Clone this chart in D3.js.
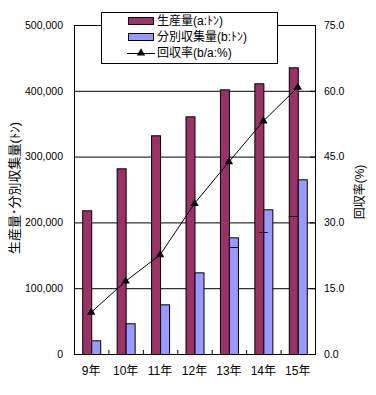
<!DOCTYPE html>
<html><head><meta charset="utf-8">
<script src="https://cdn.jsdelivr.net/npm/d3@7"></script>
<style>
html,body{margin:0;padding:0;background:#fff;}
svg{display:block;}
text{font-family:"Liberation Sans","Noto Sans CJK JP",sans-serif;fill:#000;}
</style></head>
<body><svg id="c" width="376" height="395"></svg>
<script>
const categories = ["9年","10年","11年","12年","13年","14年","15年"];
const production = [218400, 282200, 332400, 361200, 402200, 411400, 435700];
const collected  = [20800, 46700, 75500, 124100, 177300, 219900, 265500];
const rate       = [9.5, 16.6, 22.6, 34.3, 43.8, 53.1, 60.8];
const extraMarks = [null, null, null, null, 162600, 185400, 209700];
const leftTicks  = [0, 100000, 200000, 300000, 400000, 500000];
const rightTicks = [0, 15, 30, 45, 60, 75];
const seriesNames = ["生産量(a:ﾄﾝ)", "分別収集量(b:ﾄﾝ)", "回収率(b/a:%)"];
const colors = ["#993366", "#9999FF"];

const svg = d3.select("#c");
svg.append("rect").attr("width",376).attr("height",395).attr("fill","#fff");

const L = 74, R = 315, T = 25, B = 354;
const x = d3.scaleBand().domain(categories).range([L, R]).padding(0);
const bw = x.bandwidth();
const xs = d3.scaleBand().domain([0,1]).range([bw/2 - 9, bw/2 + 9]).padding(0);
const yL = d3.scaleLinear().domain([0, 500000]).range([B, T]);
const yR = d3.scaleLinear().domain([0, 75]).range([B, T]);

// gridlines
svg.append("g").selectAll("line").data(leftTicks.slice(1)).join("line")
  .attr("x1", L).attr("x2", R).attr("y1", d=>yL(d)+0.5).attr("y2", d=>yL(d)+0.5)
  .attr("stroke","#000").attr("stroke-width",1);

// bars
const g = svg.append("g");
[production, collected].forEach((arr, si) => {
  g.append("g").selectAll("rect").data(arr).join("rect")
    .attr("x", (d,i)=> x(categories[i]) + xs(si) + 0.5)
    .attr("y", d => yL(d) + 0.5)
    .attr("width", xs.bandwidth())
    .attr("height", d => B - yL(d))
    .attr("fill", colors[si]).attr("stroke","#000").attr("stroke-width",1);
});

// extra dash marks
const shifts = [0,0,0,0,0,-0.5,-1];
svg.append("g").selectAll("line").data(extraMarks.map((v,i)=>({v,i})).filter(d=>d.v!=null)).join("line")
  .attr("x1", d => x(categories[d.i]) + bw/2 + shifts[d.i]*xs.bandwidth())
  .attr("x2", d => x(categories[d.i]) + bw/2 + shifts[d.i]*xs.bandwidth() + 9)
  .attr("y1", d => Math.round(yL(d.v))+0.5).attr("y2", d => Math.round(yL(d.v))+0.5)
  .attr("stroke","#000").attr("stroke-width",1);

// axes frame
const axisG = svg.append("g");
axisG.append("line").attr("x1",L+0.5).attr("x2",L+0.5).attr("y1",T).attr("y2",B+1).attr("stroke","#000");
axisG.append("line").attr("x1",R+0.5).attr("x2",R+0.5).attr("y1",T).attr("y2",B+1).attr("stroke","#000");
axisG.append("line").attr("x1",L).attr("x2",R+1).attr("y1",T+0.5).attr("y2",T+0.5).attr("stroke","#000");
axisG.append("line").attr("x1",L).attr("x2",R+1).attr("y1",B+0.5).attr("y2",B+0.5).attr("stroke","#000");

// left axis labels
const leftAxis = d3.axisLeft(yL).tickValues(leftTicks).tickSize(0).tickPadding(11)
  .tickFormat(d3.format(","));
const la = svg.append("g").attr("transform",`translate(${L},0)`).call(leftAxis);
la.select(".domain").remove();
la.selectAll("text").attr("font-size","10.5px").attr("font-family","Liberation Sans, sans-serif");

// right axis
const rightAxis = d3.axisRight(yR).tickValues(rightTicks).tickSize(0).tickPadding(9)
  .tickFormat(d3.format(".1f"));
const ra = svg.append("g").attr("transform",`translate(${R},0)`).call(rightAxis);
ra.select(".domain").remove();
ra.selectAll("text").attr("font-size","10.5px").attr("font-family","Liberation Sans, sans-serif");
// inward ticks on right axis
svg.append("g").selectAll("line").data(rightTicks).join("line")
  .attr("x1", R-5).attr("x2", R).attr("y1", d=>yR(d)+0.5).attr("y2", d=>yR(d)+0.5).attr("stroke","#000");

// bottom axis
const bottomAxis = d3.axisBottom(x).tickSize(0).tickPadding(12);
const ba = svg.append("g").attr("transform",`translate(0,${B})`).call(bottomAxis);
ba.select(".domain").remove();
ba.selectAll("text").attr("font-size","12px").attr("font-family","Liberation Sans, Noto Sans CJK JP, sans-serif");
svg.append("g").selectAll("line").data(categories.slice(1)).join("line")
  .attr("x1", d=>x(d)+0.5).attr("x2", d=>x(d)+0.5).attr("y1", B-4).attr("y2", B)
  .attr("stroke","#000");

// rate line
const line = d3.line().x((d,i)=> x(categories[i]) + bw/2).y(d=>yR(d));
svg.append("path").datum(rate).attr("d", line).attr("fill","none").attr("stroke","#000").attr("stroke-width",1);
const tri = d3.symbol().type(d3.symbolTriangle).size(30);
svg.append("g").selectAll("path").data(rate).join("path")
  .attr("d", tri)
  .attr("transform", (d,i)=>`translate(${x(categories[i])+bw/2},${yR(d)})`)
  .attr("fill","#000");

// axis titles
svg.append("text").attr("transform","translate(19,188) rotate(-90)")
  .attr("text-anchor","middle").attr("font-size","13px")
  .attr("font-family","Noto Sans CJK JP, sans-serif")
  .text("生産量･分別収集量(ﾄﾝ)");
svg.append("text").attr("transform","translate(364,192) rotate(-90)")
  .attr("text-anchor","middle").attr("font-size","12px")
  .attr("font-family","Noto Sans CJK JP, sans-serif")
  .text("回収率(%)");

// legend
const lg = svg.append("g");
lg.append("rect").attr("x",101.5).attr("y",12.5).attr("width",176).attr("height",51)
  .attr("fill","#fff").attr("stroke","#000");
const rowsY = [21, 37, 53];
[0,1].forEach(i=>{
  lg.append("rect").attr("x",128.5).attr("y",rowsY[i]-3.5).attr("width",25).attr("height",7)
    .attr("fill",colors[i]).attr("stroke","#000");
});
lg.append("line").attr("x1",127).attr("x2",155).attr("y1",rowsY[2]+0.5).attr("y2",rowsY[2]+0.5).attr("stroke","#000");
lg.append("path").attr("d", tri).attr("transform",`translate(141,${rowsY[2]})`).attr("fill","#000");
seriesNames.forEach((s,i)=>{
  lg.append("text").attr("x",157).attr("y",rowsY[i]).attr("dy","0.36em")
    .attr("font-size","12px").attr("font-family","Noto Sans CJK JP, sans-serif").text(s);
});
</script></body></html>
